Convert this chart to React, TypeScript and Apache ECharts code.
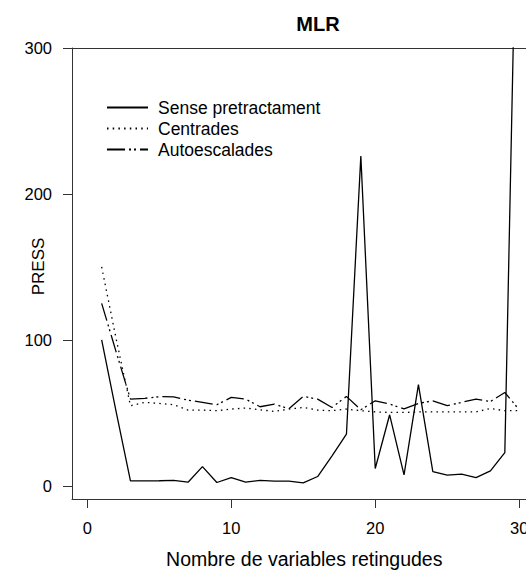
import React, { useEffect, useRef } from "react";
import * as echarts from "echarts";

const nVars = [1, 2, 3, 4, 5, 6, 7, 8, 9, 10, 11, 12, 13, 14, 15, 16, 17, 18, 19, 20, 21, 22, 23, 24, 25, 26, 27, 28, 29, 30];
const senseValues = [100, 51, 3.4, 3.4, 3.5, 3.8, 2.5, 13.2, 2.3, 5.7, 2.5, 3.8, 3.2, 3.2, 2, 6.4, 20.6, 35.4, 226, 11.9, 48.7, 7.5, 69.3, 9.8, 7.3, 8, 5.7, 10.3, 22.8, 500];
const centradesValues = [150, 101, 54.9, 57.2, 56.5, 55.6, 51.9, 51.9, 51.5, 52.6, 53.3, 52.1, 51, 52.6, 53.7, 51.9, 51.5, 52.6, 51.5, 50.7, 50.3, 50.3, 50.7, 50.7, 50.7, 50.7, 50.7, 53, 51.5, 51.5];
const autoValues = [125, 92, 59.4, 60, 61.1, 61, 58.7, 57.2, 55.6, 60.6, 59.4, 54.2, 56, 52.8, 61.3, 59.4, 53.7, 61.3, 52.1, 58.3, 56, 52.8, 56.5, 58.3, 54.9, 57.2, 59.4, 57.8, 64, 52.1];
const seriesNames = ["Sense pretractament", "Centrades", "Autoescalades"];
const xTicks = [0, 10, 20, 30];
const yTicks = [0, 100, 200, 300];

const FONT = "'Liberation Sans', Arial, Helvetica, sans-serif";
const AXIS_COLOR = "#333";

export default function App() {
  const ref = useRef<HTMLDivElement>(null);
  useEffect(() => {
    if (!ref.current) return;
    const chart = echarts.init(ref.current, null, { renderer: "svg" });
    const pairs = (vals: number[]) => nVars.map((x, i) => [x, vals[i]]);
    const mk = (name: string, vals: number[], type: any) => ({
      name,
      type: "line",
      xAxisIndex: 0,
      data: pairs(vals),
      symbol: "none",
      showSymbol: false,
      clip: true,
      lineStyle: { color: "#000", width: 1.3, type },
      itemStyle: { color: "#000" },
      emphasis: { disabled: true },
    });
    chart.setOption({
      animation: false,
      textStyle: { fontFamily: FONT },
      grid: {
        left: 72,
        top: 48,
        width: 464.5,
        height: 451,
        containLabel: false,
        outerBoundsMode: "none",
      },
      graphic: [
        {
          type: "text",
          style: {
            text: "MLR",
            x: 318,
            y: 24,
            align: "center",
            verticalAlign: "middle",
            fontSize: 20,
            fontWeight: "bold",
            fontFamily: FONT,
            fill: "#000",
          },
        },
      ],
      legend: {
        orient: "vertical",
        left: 106,
        top: 97,
        itemWidth: 41,
        itemHeight: 14,
        itemGap: 0,
        padding: 0,
        data: seriesNames,
        itemStyle: { opacity: 0, borderWidth: 0 },
        textStyle: {
          fontSize: 17.5,
          lineHeight: 21,
          color: "#000",
          fontFamily: FONT,
          padding: [0, 0, 0, 5],
        },
      },
      xAxis: [
        {
          type: "value",
          position: "bottom",
          min: -1.06,
          max: 31.2,
          name: "Nombre de variables retingudes",
          nameLocation: "middle",
          nameGap: 50,
          nameMoveOverlap: false,
          nameTextStyle: { fontSize: 19.5, color: "#000", fontFamily: FONT },
          axisLine: { show: true, onZero: false, lineStyle: { color: AXIS_COLOR, width: 1 } },
          splitLine: { show: false },
          axisTick: { show: true, length: 9, inside: false, customValues: xTicks, lineStyle: { color: AXIS_COLOR } },
          axisLabel: { show: true, customValues: xTicks, fontSize: 16.5, color: "#000", margin: 20, fontFamily: FONT },
        },
        {
          type: "value",
          position: "top",
          min: -1.06,
          max: 31.2,
          axisLine: { show: true, onZero: false, lineStyle: { color: AXIS_COLOR, width: 1 } },
          splitLine: { show: false },
          axisTick: { show: false },
          axisLabel: { show: false },
        },
      ],
      yAxis: {
        type: "value",
        min: -9,
        max: 300,
        name: "PRESS",
        nameLocation: "middle",
        nameGap: 25,
        nameMoveOverlap: false,
        nameTextStyle: { fontSize: 17, color: "#000", fontFamily: FONT, padding: [0, 0, 0, 14] },
        axisLine: { show: true, onZero: false, lineStyle: { color: AXIS_COLOR, width: 1 } },
        splitLine: { show: false },
        axisTick: { show: true, length: 9, inside: false, customValues: yTicks, lineStyle: { color: AXIS_COLOR } },
        axisLabel: { show: true, customValues: yTicks, fontSize: 16.5, color: "#000", margin: 20, fontFamily: FONT },
      },
      series: [
        mk(seriesNames[0], senseValues, "solid"),
        mk(seriesNames[1], centradesValues, [1.5, 4.2]),
        mk(seriesNames[2], autoValues, [18, 4, 2, 3, 2, 4]),
      ],
    });
    return () => chart.dispose();
  }, []);
  return (
    <div style={{ position: "fixed", left: 0, top: 0, width: 526, height: 570, overflow: "hidden", background: "#fff" }}>
      <div ref={ref} style={{ width: 540, height: 570 }} />
    </div>
  );
}
